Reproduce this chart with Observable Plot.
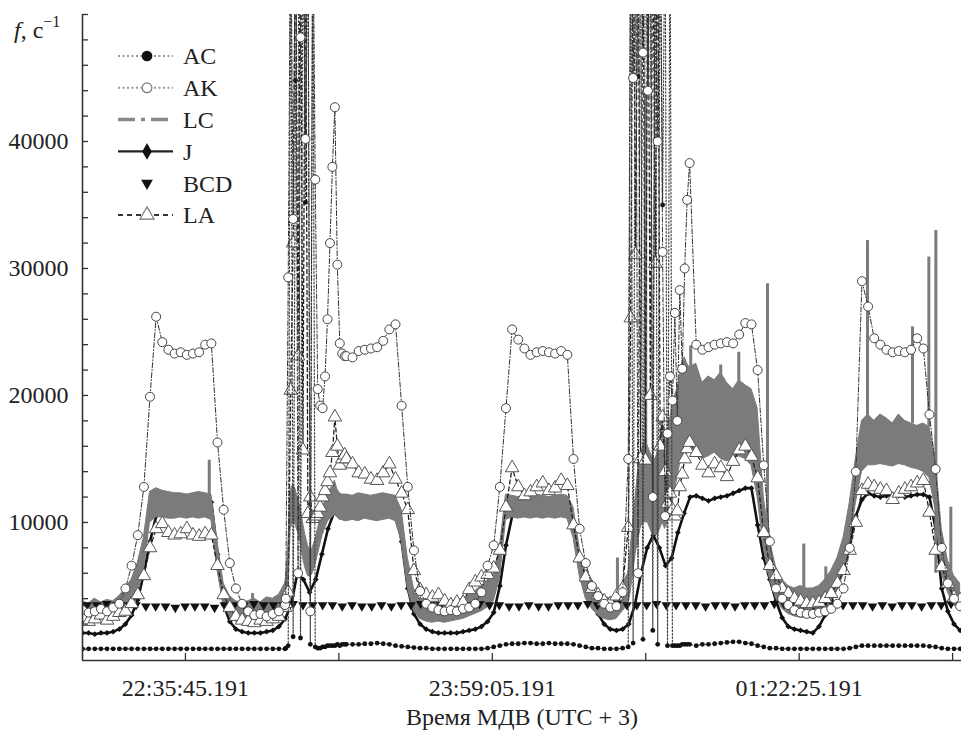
<!DOCTYPE html>
<html><head><meta charset="utf-8">
<script src="https://cdn.jsdelivr.net/npm/d3@7"></script>
<script src="https://cdn.jsdelivr.net/npm/@observablehq/plot@0.6"></script>
<style>
body{margin:0;background:#fff;}
#wrap{position:relative;width:961px;height:736px;font-family:"Liberation Serif","Times New Roman",serif;}
#legend{position:absolute;left:0;top:0;}
</style></head><body>
<div id="wrap"><div id="chart"></div><svg id="legend" width="260" height="240"></svg></div>
<script>
// ---- data (values in hundreds of counts per second) ----
const UNIT = 100;
const gridStart = 468, gridStep = 100;          // seconds after 22:00:00
const burstAStart = 3780, burstBStart = 9360, burstStep = 40;
const bcdStart = 540, bcdStep = 160;

const seriesNames = ["AC","AK","LC","J","BCD","LA"];

const AC = [
0.5,0.5,0.5,0.5,0.5,0.5,0.5,0.5,0.5,0.5,
0.5,0.5,0.5,0.5,0.5,0.5,0.5,0.5,0.5,0.5,
0.5,0.5,0.5,0.5,0.5,0.5,0.5,0.5,0.5,0.5,
0.5,0.5,0.5,0.5,null,null,null,null,null,null,
null,null,null,4,4,4,4.5,4.5,5,4.5,
4,3,2.5,2,1.5,1,1,0.5,0.5,0.5,
0.5,0.5,0.5,0.5,0.5,0.5,1,2,3,4,
4.5,4.5,5,5,4.5,4.5,5,4.5,4.5,4.5,
4,3,2,1,1,0.5,0.5,0.5,1,null,
null,null,null,null,null,null,null,null,null,null,
3,4,4,4.5,5,5.5,6,6,5,4.5,
3,2,1,1,0.5,0.5,0.5,0.5,0.5,0.5,
0.5,0.5,0.5,0.5,0.5,1,2,3,3,3,
3,3,3,3,3,3,3,3,2.5,2,
1,0.5,0.5,0.5];
const AK = [
31,29,30,32,30,33,36,48,66,90,
128,199,262,242,236,233,234,232,233,234,
240,241,163,110,68,48,36,30,27,28,
26,28,30,35,null,null,null,null,null,null,
null,null,null,231,230,235,236,237,238,243,
252,256,192,128,78,46,36,33,31,30,
31,30,32,33,36,45,66,82,128,190,
252,244,237,232,234,235,234,233,235,232,
150,95,68,50,42,36,33,34,45,null,
null,null,null,null,null,null,null,null,null,null,
240,236,238,240,241,242,241,248,257,256,
220,145,85,48,40,35,31,29,28,28,
29,30,32,36,48,80,140,290,270,245,
240,236,234,235,234,236,245,237,185,142,
80,52,40,34];
const LA = [
25,22,24,27,23,26,29,30,36,43,
58,80,95,99,92,90,91,95,90,89,
91,90,66,43,33,26,23,22,21,23,
22,24,26,33,null,null,null,null,null,null,
null,null,null,150,146,139,138,134,133,139,
146,134,123,110,62,47,43,41,43,38,
35,37,37,47,53,57,59,64,78,112,
143,128,121,124,128,131,125,127,133,129,
98,72,57,48,43,38,36,42,48,null,
null,null,null,null,null,null,null,null,null,null,
155,145,139,146,143,136,148,157,160,152,
135,92,66,58,48,44,40,38,36,36,
37,40,44,52,62,78,100,125,130,128,
126,125,118,123,126,128,131,133,108,78,
65,52,41,39];
const J = [
13,13,12,13,13,14,16,20,27,39,
60,85,105,110,113,115,116,116,117,118,
118,116,75,35,22,16,14,13,13,13,
14,15,18,24,35,60,55,45,55,75,
95,108,112,113,113,114,114,114,115,115,
115,110,85,48,28,20,16,14,13,13,
13,13,14,15,16,18,22,29,50,82,
105,110,112,113,113,114,114,114,114,112,
95,70,56,40,28,20,16,15,16,20,
35,60,80,90,80,66,72,92,107,120,
121,119,117,119,120,121,123,125,127,127,
98,72,55,38,25,18,16,15,14,13,
18,27,39,50,63,85,105,118,123,121,
120,121,122,121,120,121,122,122,120,95,
48,30,20,15];
const LC_LO = [
24,22,25,23,26,24,26,30,35,45,
62,100,104,104,103,103,104,103,104,103,
104,102,62,35,26,22,21,21,22,22,
23,24,26,30,null,null,null,null,null,null,
null,null,null,101,102,101,103,102,101,102,
103,101,85,48,30,24,22,21,22,21,
22,23,24,26,28,30,33,38,55,102,
104,103,104,103,104,103,104,103,104,103,
88,58,40,32,27,24,23,24,30,null,
null,null,null,null,null,null,null,null,null,null,
155,150,152,155,150,148,150,152,150,145,
120,80,55,40,32,28,26,25,25,25,
26,30,38,48,60,82,115,140,145,145,
146,145,144,146,145,143,142,140,135,110,
60,45,35,30];
const LC_HI = [
38,36,40,37,39,38,42,48,55,68,
88,124,127,125,124,123,123,122,123,124,
123,122,85,52,42,38,37,38,40,37,
41,40,43,52,null,null,null,null,null,null,
null,null,null,122,121,123,122,121,122,123,
122,121,110,72,48,40,38,37,38,36,
38,39,40,43,46,50,54,60,80,122,
121,120,121,120,122,121,120,121,122,121,
112,80,60,48,44,42,40,42,52,null,
null,null,null,null,null,null,null,null,null,null,
225,210,215,212,218,210,205,212,208,205,
190,120,85,65,55,50,48,50,48,48,
50,55,62,72,88,115,150,180,185,180,
185,182,178,185,180,178,176,178,175,150,
95,70,58,52];

// bursts (finer sampling)
const AC_A = [1,3,600,10,448,600,9,600,352,600,4,600,2,1,1,2,2,3,3,3,3,4,3,4,4];
const AK_A = [40,293,600,339,600,60,482,600,402,600,30,600,370,205,192,190,215,260,320,380,427,303,241,233,231];
const LA_A = [36,45,204,320,600,231,600,157,600,107,120,103,105,107,112,120,125,132,139,155,183,160,145,150,153];
const LC_LO_A = [30,45,95,100,98,92,85,72,64,58,57,60,66,74,82,90,95,100,103,104,106,104,102,102,101];
const LC_HI_A = [55,80,125,130,126,118,112,100,90,82,78,80,86,94,102,110,117,122,126,128,133,126,123,122,122];

const AC_B = [2,600,5,600,451,600,8,600,440,600,15,600,4,600,350,600,3,600,3,3,3,3,4,4,4,4];
const AK_B = [150,600,450,600,60,600,470,600,440,600,120,600,400,600,313,105,170,215,196,265,180,283,221,300,354,383];
const LA_B = [96,261,600,311,600,150,600,149,600,200,600,304,600,160,183,140,115,123,110,105,109,128,138,150,158,163];
const LC_LO_B = [35,45,60,75,85,95,100,100,100,95,90,90,90,95,100,95,100,110,115,125,135,145,150,155,160,158];
const LC_HI_B = [60,80,100,120,140,150,160,165,160,155,150,150,155,165,180,160,170,180,195,200,205,215,225,230,225,222];

// isolated LC spikes
const LC_SPIKE_T  = [2533,3239,9184,9645,10378,10867,11161,11629,12220,12579,13258,13992,14258,14372,14616];
const LC_SPIKE_LO = [122,35,42,150,200,200,200,60,45,50,180,178,175,60,50];
const LC_SPIKE_HI = [149,44,72,440,239,224,234,288,83,65,322,254,309,330,112];

const BCD = [
35,35,36,35,35,35,34,34,34,33,
34,34,34,33,35,35,35,36,35,35,
35,36,35,35,35,35,34,35,34,34,
35,34,35,35,36,35,35,36,35,35,
36,35,35,34,34,35,34,34,35,35,
35,36,35,35,36,35,35,35,36,35,
35,35,35,34,35,35,34,35,35,35,
36,36,35,36,35,35,36,35,35,35,
34,35,34,35,35,34,35,35,36,35];

// axis
const xTickLabels = ["22:35:45.191","23:59:05.191","01:22:25.191"];
const xTickStep = 2500;
const yTickLabels = [10000,20000,30000,40000];
const yTickStep = 2000;
const xTitle = "Время МДВ (UTC + 3)";
const xDomain = [468, 14790];
const yDomain = [-870, 50000];

// ---- build ----
function parseT(s){ const [h,m,sec]=s.split(":"); let hh=+h; if(hh<12) hh+=24; return (hh-22)*3600 + (+m)*60 + (+sec); }
function build(main, a, b){
  const out=[];
  main.forEach((v,i)=>{ if(v!=null) out.push({t:gridStart+i*gridStep, v:v*UNIT}); });
  if(a) a.forEach((v,k)=>out.push({t:burstAStart+k*burstStep, v:v*UNIT}));
  if(b) b.forEach((v,k)=>out.push({t:burstBStart+k*burstStep, v:v*UNIT}));
  return out.sort((p,q)=>p.t-q.t);
}
function buildBand(lo, hi, loA, hiA, loB, hiB){
  const out=[];
  lo.forEach((v,i)=>{ if(v!=null) out.push({t:gridStart+i*gridStep, lo:v*UNIT, hi:hi[i]*UNIT}); });
  loA.forEach((v,k)=>out.push({t:burstAStart+k*burstStep, lo:v*UNIT, hi:hiA[k]*UNIT}));
  loB.forEach((v,k)=>out.push({t:burstBStart+k*burstStep, lo:v*UNIT, hi:hiB[k]*UNIT}));
  return out.sort((p,q)=>p.t-q.t);
}
const acData = build(AC, AC_A, AC_B);
const akData = build(AK, AK_A, AK_B);
const laData = build(LA, LA_A, LA_B);
const jData = build(J);
const lcData = buildBand(LC_LO, LC_HI, LC_LO_A, LC_HI_A, LC_LO_B, LC_HI_B);
const lcSpikes = LC_SPIKE_T.map((t,k)=>({t, lo:LC_SPIKE_LO[k]*UNIT, hi:LC_SPIKE_HI[k]*UNIT}));
const bcdData = BCD.map((v,k)=>({t:bcdStart+k*bcdStep, v:v*UNIT}));

const labelTimes = xTickLabels.map(parseT);
const labelMap = new Map(labelTimes.map((t,k)=>[t, xTickLabels[k]]));
const xTicksAll = [];
for(let t=labelTimes[0]; t<=xDomain[1]; t+=xTickStep) xTicksAll.push(t);
const yTicksAll = [];
for(let v=0; v<=yDomain[1]; v+=yTickStep) yTicksAll.push(v);

const W=961, H=736, ML=82, MR=0, MT=14, MB=76;
const frameW=W-ML-MR, frameH=H-MT-MB;

const chart = Plot.plot({
  width:W, height:H, marginLeft:ML, marginRight:MR, marginTop:MT, marginBottom:MB,
  style:{fontFamily:"'Liberation Serif', 'Times New Roman', serif", fontSize:"24px", color:"#222", background:"white"},
  x:{domain:xDomain, ticks:labelTimes, tickFormat:t=>labelMap.get(t), tickSize:0, tickPadding:18, label:null},
  y:{domain:yDomain, ticks:yTickLabels, tickFormat:d3.format("d"), tickSize:0, tickPadding:14, label:null},
  marks:[
    Plot.line(jData,{x:"t",y:"v",stroke:"#111",strokeWidth:2.6,clip:true}),
    Plot.dot(jData,{x:"t",y:"v",symbol:"diamond2",r:2.6,fill:"#111",clip:true}),
    Plot.areaY(lcData,{x:"t",y1:"lo",y2:"hi",fill:"#7b7b7b",stroke:"#7b7b7b",strokeWidth:1,clip:true}),
    Plot.ruleX(lcSpikes,{x:"t",y1:"lo",y2:"hi",stroke:"#7b7b7b",strokeWidth:3,clip:true}),
    Plot.dot(bcdData,{x:"t",y:"v",symbol:"triangle",rotate:180,r:3.6,fill:"#111",clip:true}),
    Plot.line(laData,{x:"t",y:"v",stroke:"#222",strokeWidth:1.3,strokeDasharray:"4,3",clip:true}),
    Plot.dot(laData,{x:"t",y:"v",symbol:"triangle",r:5,fill:"white",stroke:"#555",strokeWidth:1,clip:true}),
    Plot.line(acData,{x:"t",y:"v",stroke:"#444",strokeWidth:1.2,strokeDasharray:"1.5,2",clip:true}),
    Plot.dot(acData,{x:"t",y:"v",r:2.4,fill:"#111",clip:true}),
    Plot.line(akData,{x:"t",y:"v",stroke:"#333",strokeWidth:1,strokeDasharray:"5,2,1,2",clip:true}),
    Plot.dot(akData,{x:"t",y:"v",r:4.5,fill:"white",stroke:"#444",strokeWidth:1,clip:true}),
    Plot.ruleX(xTicksAll,{stroke:"#333",strokeWidth:1.3,insetTop:frameH-7}),
    Plot.ruleY(yTicksAll,{stroke:"#333",strokeWidth:1.3,insetRight:frameW-6}),
    Plot.ruleX([xDomain[0]],{stroke:"#333",strokeWidth:1.6}),
    Plot.ruleY([yDomain[0]],{stroke:"#333",strokeWidth:1.6}),
    Plot.text([xTitle],{text:d=>d,frameAnchor:"bottom",dy:64,fontSize:24,fill:"#222"})
  ]
});
document.getElementById("chart").appendChild(chart);

// ---- legend & y label overlay ----
const lg = d3.select("#legend").style("font-family","'Liberation Serif','Times New Roman',serif");
const ylab = lg.append("text").attr("x",14).attr("y",38).attr("font-size",24).attr("fill","#222");
ylab.append("tspan").attr("font-style","italic").text("f");
ylab.append("tspan").text(", c");
ylab.append("tspan").attr("dy",-11).attr("font-size",16).text("−1");

const legendStyle = {
  AC:{line:"#999",lw:2,dash:"2,2.5",sym:d3.symbolCircle,size:90,fill:"#111",stroke:"none"},
  AK:{line:"#999",lw:2,dash:"2,2.5",sym:d3.symbolCircle,size:75,fill:"white",stroke:"#777"},
  LC:{line:"#888",lw:3.5,dash:"17,6,4,6",sym:null},
  J:{line:"#222",lw:2.2,dash:null,sym:d3.symbolDiamond,size:80,fill:"#111",stroke:"none"},
  BCD:{line:null,sym:d3.symbolTriangle,size:60,fill:"#111",stroke:"none",rot:180},
  LA:{line:"#333",lw:2,dash:"5,4",sym:d3.symbolTriangle,size:85,fill:"white",stroke:"#777"}
};
const lx0=118, lx1=173, lmx=147, ltx=183, ly0=56, ldy=31.8;
seriesNames.forEach((name,k)=>{
  const y=ly0+k*ldy, s=legendStyle[name];
  if(s.line) lg.append("line").attr("x1",lx0).attr("x2",lx1).attr("y1",y).attr("y2",y)
    .attr("stroke",s.line).attr("stroke-width",s.lw).attr("stroke-dasharray",s.dash);
  if(s.sym) lg.append("path").attr("d",d3.symbol(s.sym,s.size)())
    .attr("transform",`translate(${lmx},${y}) rotate(${s.rot||0})`)
    .attr("fill",s.fill).attr("stroke",s.stroke).attr("stroke-width",1.2);
  lg.append("text").attr("x",ltx).attr("y",y).attr("dy","0.35em").attr("font-size",24).attr("fill","#222").text(name);
});
</script>
</body></html>
